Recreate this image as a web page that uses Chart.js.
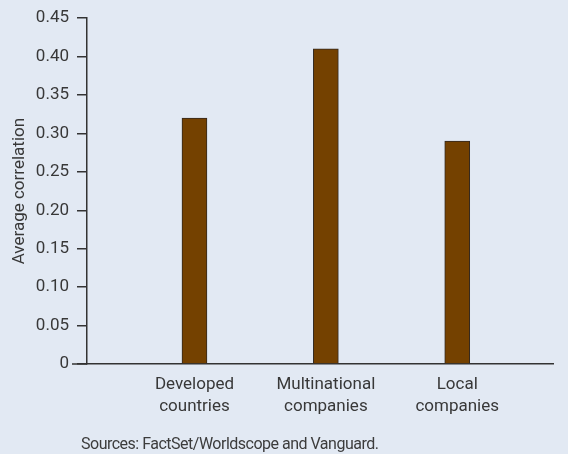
<!DOCTYPE html>
<html>
<head>
<meta charset="utf-8">
<script src="https://cdn.jsdelivr.net/npm/chart.js@4"></script>
<style>
  html, body { margin: 0; padding: 0; background: #e2e9f3; }
  #wrap { position: relative; width: 568px; height: 454px; }
  #note {
    position: absolute; left: 81px; top: 436px;
    font-family: Roboto, sans-serif; letter-spacing: -0.5px;
    font-size: 16px; line-height: 1; color: #3c3c3c; white-space: nowrap;
  }
</style>
</head>
<body>
<div id="wrap">
  <canvas id="chart" width="568" height="454"></canvas>
  <div id="note">Sources: FactSet/Worldscope and Vanguard.</div>
</div>
<script>
// categories and values
const categories = [["Developed", "countries"], ["Multinational", "companies"], ["Local", "companies"]];
const correlation = [0.32, 0.41, 0.29];
const yTicks = [0, 0.05, 0.10, 0.15, 0.20, 0.25, 0.30, 0.35, 0.40, 0.45];

const fontFam = "Roboto, sans-serif";
const inkColor = "#383838";
const lineColor = "#333333";

// x axis line runs a bit left of the y axis, under the 0 label
const extendBase = {
  id: "extendBase",
  afterDraw(chart) {
    const ctx = chart.ctx;
    const y = chart.scales.y.getPixelForValue(0);
    const left = chart.chartArea.left;
    ctx.save();
    ctx.strokeStyle = lineColor;
    ctx.lineWidth = 1.5;
    ctx.beginPath();
    ctx.moveTo(left - 15, y);
    ctx.lineTo(left, y);
    ctx.stroke();
    ctx.restore();
  }
};

new Chart(document.getElementById("chart"), {
  type: "bar",
  data: {
    datasets: [{
      data: correlation.map((v, i) => ({ x: i + 1, y: v })),
      backgroundColor: "#744100",
      borderColor: "#33291f",
      borderWidth: 1,
      barThickness: 25
    }]
  },
  options: {
    responsive: false,
    animation: false,
    layout: { padding: { left: 0, top: 16, right: 15, bottom: 0 } },
    plugins: { legend: { display: false }, tooltip: { enabled: false } },
    scales: {
      x: {
        type: "linear",
        offset: false,
        min: 0.182,
        max: 3.729,
        afterBuildTicks: s => { s.ticks = categories.map((c, i) => ({ value: i + 1 })); },
        afterFit: s => { s.height = 90; },
        grid: { display: false, drawTicks: false, offset: false },
        border: { display: true, color: lineColor, width: 1.5 },
        ticks: {
          padding: 10,
          autoSkip: false,
          maxRotation: 0,
          color: inkColor,
          font: { family: fontFam, size: 17, lineHeight: 1.3 },
          callback: v => categories[v - 1]
        }
      },
      y: {
        min: 0,
        max: 0.45,
        afterBuildTicks: s => { s.ticks = yTicks.map(v => ({ value: v })); },
        afterFit: s => { s.width = 87; },
        grid: { drawOnChartArea: false, drawTicks: true, tickLength: 10, color: lineColor, lineWidth: 1.5 },
        border: { display: true, color: lineColor, width: 1.5 },
        ticks: {
          padding: 8,
          color: inkColor,
          font: { family: fontFam, size: 17 },
          callback: v => v === 0 ? "0" : v.toFixed(2)
        },
        title: {
          display: true,
          text: "Average correlation",
          color: inkColor,
          font: { family: fontFam, size: 17 },
          padding: { top: 10, bottom: 0 }
        }
      }
    }
  },
  plugins: [extendBase]
});
</script>
</body>
</html>
